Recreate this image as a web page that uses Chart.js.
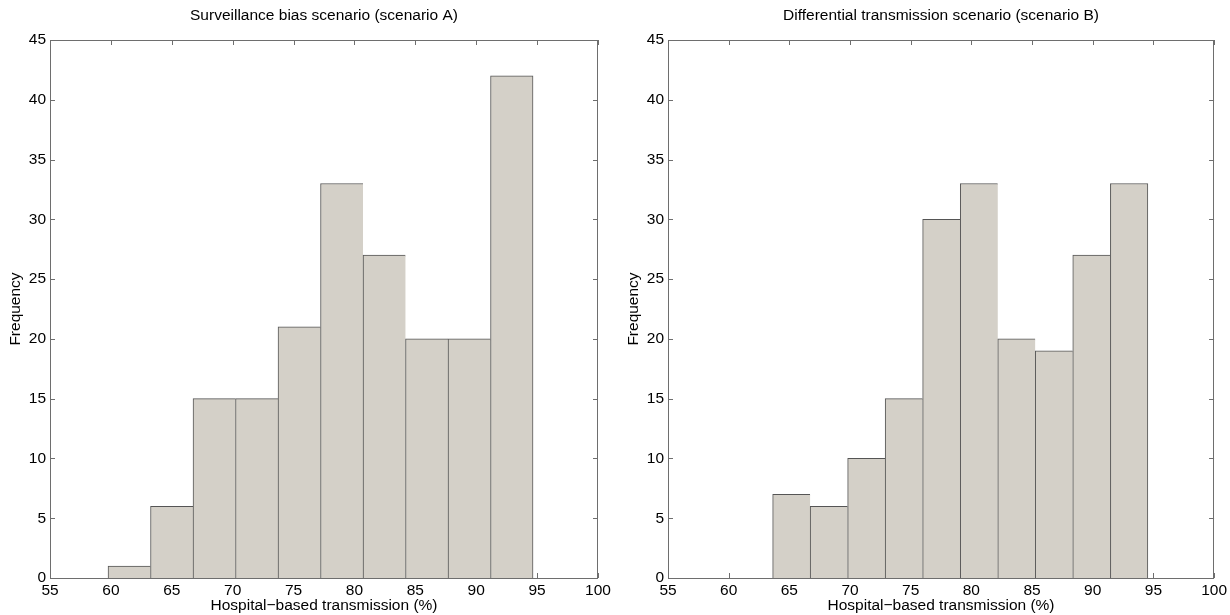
<!DOCTYPE html>
<html>
<head>
<meta charset="utf-8">
<script src="https://cdn.jsdelivr.net/npm/chart.js@4.4.0/dist/chart.umd.min.js"></script>
<style>
  html, body { margin: 0; padding: 0; background: #fff; }
  .panel { position: absolute; top: 0; width: 615px; height: 615px; }
</style>
</head>
<body>
<div class="panel" style="left:0"><canvas id="chartA"></canvas></div>
<div class="panel" style="left:615px"><canvas id="chartB"></canvas></div>
<script>
// bin centres (%) and counts
const binCentersA = [61.51, 65.00, 68.49, 71.98, 75.47, 78.96, 82.45, 85.94, 89.43, 92.92];
const countsA = [1, 6, 15, 15, 21, 33, 27, 20, 20, 42];

const binCentersB = [65.17, 68.26, 71.35, 74.44, 77.53, 80.63, 83.72, 86.81, 89.90, 93.00];
const countsB = [7, 6, 10, 15, 30, 33, 20, 19, 27, 33];

const xRange = [55, 100];
const yRange = [0, 45];
const tickStep = 5;

const FONT = "'Liberation Sans', Arial, Helvetica, sans-serif";
const FS = 15.5;

// matlab-style box with inward ticks, title centred over the axes
const boxTicks = {
  id: "boxTicks",
  beforeDatasetsDraw(chart) {
    const { ctx, chartArea: a, scales: { x, y } } = chart;
    ctx.save();
    ctx.strokeStyle = "#6e6e6e";
    ctx.lineWidth = 1;
    ctx.beginPath();
    x.ticks.forEach(t => {
      const px = Math.round(x.getPixelForValue(t.value)) + 0.5;
      ctx.moveTo(px, a.top); ctx.lineTo(px, a.top + 5);
      ctx.moveTo(px, a.bottom); ctx.lineTo(px, a.bottom - 5);
    });
    y.ticks.forEach(t => {
      const py = Math.round(y.getPixelForValue(t.value)) + 0.5;
      ctx.moveTo(a.left, py); ctx.lineTo(a.left + 5, py);
      ctx.moveTo(a.right, py); ctx.lineTo(a.right - 5, py);
    });
    ctx.stroke();
    ctx.restore();
  },
  afterDatasetsDraw(chart, args, opts) {
    const { ctx, chartArea: a } = chart;
    ctx.save();
    ctx.strokeStyle = "#6e6e6e";
    ctx.lineWidth = 1;
    ctx.strokeRect(Math.round(a.left) + 0.5, Math.round(a.top) + 0.5,
      Math.round(a.right - a.left) - 1, Math.round(a.bottom - a.top));
    ctx.fillStyle = "#000";
    ctx.font = `${FS}px ${FONT}`;
    ctx.textAlign = "center";
    ctx.textBaseline = "middle";
    ctx.fillText(opts.text, (a.left + a.right) / 2, 16);
    ctx.restore();
  }
};

function makeHist(id, title, centers, counts, yWidth, yTitlePad, rightPad) {
  const last = counts.length - 1;
  return new Chart(document.getElementById(id), {
    type: "bar",
    data: {
      datasets: [{
        data: centers.map((c, i) => ({ x: c, y: counts[i] })),
        backgroundColor: "#d4d0c8",
        borderColor: "#555555",
        borderWidth: ctx => ({ top: 1, left: 1, right: ctx.dataIndex === last ? 1 : 0, bottom: 0 }),
        barPercentage: 1,
        categoryPercentage: 1
      }]
    },
    options: {
      responsive: true,
      maintainAspectRatio: false,
      animation: false,
      layout: { padding: { left: 0, right: rightPad, top: 40, bottom: 0 } },
      plugins: {
        legend: { display: false },
        tooltip: { enabled: false },
        title: { display: false },
        boxTicks: { text: title }
      },
      scales: {
        x: {
          type: "linear",
          min: xRange[0],
          max: xRange[1],
          offset: false,
          grid: { display: false, drawTicks: false },
          border: { display: false },
          ticks: {
            stepSize: tickStep,
            padding: 3,
            color: "#000",
            maxRotation: 0,
            font: { family: FONT, size: FS }
          },
          title: {
            display: true,
            text: "Hospital\u2212based transmission (%)",
            color: "#000",
            font: { family: FONT, size: FS },
            padding: { top: 0, bottom: 0 }
          },
          afterFit: s => { s.height = 37; }
        },
        y: {
          min: yRange[0],
          max: yRange[1],
          grid: { display: false, drawTicks: false },
          border: { display: false },
          ticks: {
            stepSize: tickStep,
            padding: 4,
            color: "#000",
            font: { family: FONT, size: FS }
          },
          title: {
            display: true,
            text: "Frequency",
            color: "#000",
            font: { family: FONT, size: FS },
            padding: { top: yTitlePad, bottom: 0 }
          },
          afterFit: s => { s.width = yWidth; }
        }
      }
    },
    plugins: [boxTicks]
  });
}

makeHist("chartA", "Surveillance bias scenario (scenario A)", binCentersA, countsA, 50, 6, 17);
makeHist("chartB", "Differential transmission scenario (scenario B)", binCentersB, countsB, 53, 9, 12);
</script>
</body>
</html>
